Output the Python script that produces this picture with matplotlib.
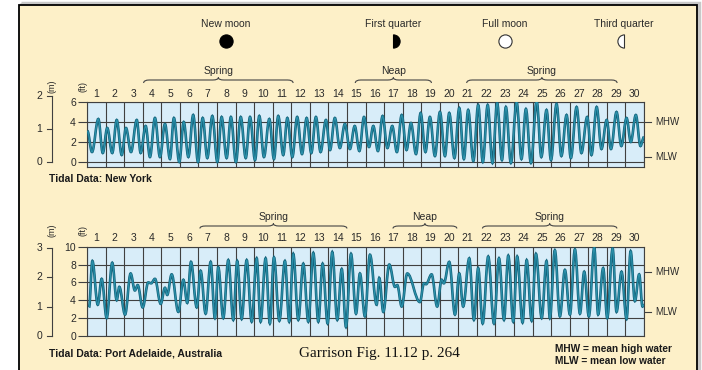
import numpy as np
import matplotlib
matplotlib.use('Agg')
import matplotlib.pyplot as plt
from matplotlib.path import Path
from matplotlib.patches import PathPatch, Rectangle
from matplotlib.transforms import blended_transform_factory
import matplotlib.patheffects as pe

plt.rcParams['font.family'] = ['Liberation Sans', 'DejaVu Sans']

days = list(range(1, 31))

# New York: tide extremes (day, height in ft)
ny_t = [0.02, 0.27, 0.61, 0.85, 1.09, 1.36, 1.60, 1.87, 2.10, 2.37, 2.68, 2.89,
        3.16, 3.39, 3.66, 3.93, 4.20, 4.47, 4.68, 4.97, 5.21, 5.46, 5.72, 5.98,
        6.23, 6.48, 6.75, 7.02, 7.25, 7.52, 7.75, 8.02, 8.28, 8.55, 8.78, 9.05,
        9.28, 9.53, 9.82, 10.07, 10.30, 10.57, 10.79, 11.06, 11.32, 11.58, 11.83, 12.08,
        12.33, 12.58, 12.87, 13.09, 13.35, 13.62, 13.89, 14.16, 14.42, 14.67, 14.92, 15.19,
        15.42, 15.67, 15.92, 16.18, 16.44, 16.69, 16.95, 17.21, 17.45, 17.72, 17.97, 18.23,
        18.47, 18.74, 19.01, 19.28, 19.51, 19.79, 20.05, 20.30, 20.53, 20.81, 21.07, 21.32,
        21.58, 21.84, 22.09, 22.35, 22.56, 22.83, 23.14, 23.40, 23.64, 23.91, 24.22, 24.47,
        24.75, 24.99, 25.29, 25.55, 25.83, 26.06, 26.37, 26.63, 26.94, 27.17, 27.45, 27.71,
        27.99, 28.22, 28.52, 28.78, 29.06, 29.29, 29.56, 29.81, 30.0]
ny_h = [3.1, 1.0, 4.3, 0.9, 3.4, 0.9, 4.2, 0.7, 3.4, 1.0, 4.2, 0.9,
        3.6, 0.5, 4.4, 0.5, 3.8, 0.3, 4.4, 0.0, 4.0, 0.5, 4.7, 0.0,
        4.4, 0.4, 4.6, 0.0, 4.5, 0.4, 4.5, 0.0, 4.5, 0.4, 4.5, 0.2,
        4.6, 0.5, 4.3, 0.3, 4.6, 0.7, 4.4, 0.5, 4.5, 0.8, 4.4, 0.9,
        4.5, 1.0, 4.2, 1.2, 4.4, 1.4, 3.8, 1.3, 3.6, 1.1, 4.5, 1.5,
        3.6, 1.1, 4.6, 1.4, 3.6, 1.0, 4.7, 1.2, 3.9, 0.8, 4.9, 1.0,
        4.5, 0.6, 5.0, 0.6, 4.9, 0.4, 5.4, 0.3, 5.2, 0.1, 5.7, 0.0,
        5.7, -0.1, 5.9, 0.2, 5.5, -0.1, 6.0, 0.3, 5.3, -0.1, 6.1, 0.5,
        5.2, 0.2, 5.8, 0.6, 4.7, 0.4, 5.5, 0.9, 4.5, 0.7, 5.5, 1.3,
        4.2, 1.3, 5.0, 1.6, 4.4, 2.0, 4.7, 1.6, 2.5]

# Port Adelaide: tide extremes (day, height in ft)
pa_t = [0.11, 0.29, 0.58, 0.79, 1.06, 1.36, 1.60, 1.74, 2.05, 2.35, 2.58, 2.73,
        3.00, 3.30, 3.45, 3.66, 3.97, 4.20, 4.32, 4.56, 4.92, 5.19, 5.40, 5.60,
        5.91, 6.12, 6.39, 6.66, 6.89, 7.07, 7.34, 7.61, 7.88, 8.09, 8.33, 8.60,
        8.87, 9.14, 9.35, 9.62, 9.85, 10.07, 10.36, 10.66, 10.89, 11.11, 11.38, 11.65,
        11.92, 12.19, 12.46, 12.69, 12.96, 13.21, 13.48, 13.72, 13.95, 14.22, 14.49, 14.70,
        14.97, 15.24, 15.60, 15.74, 15.96, 16.28, 16.59, 16.71, 16.95, 17.25, 17.93, 18.15,
        18.26, 18.56, 18.86, 19.10, 19.22, 19.51, 19.82, 20.05, 20.26, 20.59, 20.84, 21.07,
        21.31, 21.61, 21.92, 22.19, 22.46, 22.69, 22.96, 23.17, 23.46, 23.68, 23.95, 24.18,
        24.49, 24.75, 24.93, 25.20, 25.47, 25.74, 26.01, 26.28, 26.55, 26.78, 27.03, 27.32,
        27.53, 27.80, 28.02, 28.31, 28.52, 28.79, 29.06, 29.28, 29.51, 29.74, 29.92, 30.0]
pa_h = [3.2, 8.4, 3.5, 6.4, 2.0, 8.2, 4.0, 5.5, 2.4, 7.0, 5.1, 5.7,
        3.2, 6.0, 5.9, 6.4, 3.6, 5.4, 4.6, 6.9, 2.7, 6.3, 3.7, 8.3,
        3.2, 7.3, 2.5, 8.3, 2.0, 7.7, 2.0, 8.5, 1.8, 8.4, 1.9, 8.5,
        1.6, 8.7, 1.6, 8.7, 1.4, 8.8, 1.7, 8.4, 1.6, 9.2, 1.8, 8.1,
        1.6, 9.3, 1.6, 8.1, 1.4, 9.4, 1.8, 7.5, 1.0, 9.2, 2.5, 7.0,
        2.2, 9.1, 3.5, 6.5, 2.7, 8.0, 5.5, 5.7, 3.3, 7.0, 3.8, 5.9,
        5.8, 6.9, 3.3, 6.3, 5.9, 8.3, 2.4, 7.0, 3.3, 8.7, 1.8, 7.6,
        1.4, 8.9, 1.4, 8.7, 1.8, 9.0, 1.6, 8.9, 1.5, 8.5, 1.7, 9.2,
        2.0, 8.4, 2.0, 9.6, 2.2, 7.4, 2.4, 9.7, 2.5, 7.2, 2.2, 9.9,
        2.4, 7.6, 2.0, 9.8, 2.7, 7.2, 1.9, 9.5, 3.9, 6.9, 3.3, 3.5]

ny_ft_ticks = [0, 2, 4, 6]
pa_ft_ticks = [0, 2, 4, 6, 8, 10]
ny_m_ticks = [0, 1, 2]
pa_m_ticks = [0, 1, 2, 3]
ny_mhw, ny_mlw = 4.0, 0.5
pa_mhw, pa_mlw = 7.2, 2.7
ny_periods = [('Spring', 3.05, 11.1), ('Neap', 14.45, 18.55), ('Spring', 20.45, 28.55)]
pa_periods = [('Spring', 6.08, 14.0), ('Neap', 16.48, 19.92), ('Spring', 21.3, 28.54)]
moon_names = ['New moon', 'First quarter', 'Full moon', 'Third quarter']
moon_days = [7.49, 16.48, 22.51, 28.92]

CREAM = '#fdf0c8'
BLUE = '#d8edf9'
GRID = '#404040'
TXT = '#2a2a2a'
TEAL = '#2a90aa'
FT_PER_M = 3.2808

fig = plt.figure(figsize=(7.02, 3.70), dpi=100)
bg = fig.add_axes([0, 0, 1, 1])
bg.set_xlim(0, 702)
bg.set_ylim(370, 0)
bg.axis('off')
bg.set_zorder(0)
bg.add_patch(Rectangle((21, 3), 678, 380, fc='none', ec='#c8c8c8', lw=2.5))
bg.add_patch(Rectangle((19, 5), 678, 380, fc=CREAM, ec='black', lw=1.3))


def tide_path(t, h, k=0.36):
    verts = [(t[0], h[0])]
    codes = [Path.MOVETO]
    for i in range(1, len(t)):
        dt = t[i] - t[i - 1]
        verts += [(t[i - 1] + k * dt, h[i - 1]), (t[i] - k * dt, h[i]), (t[i], h[i])]
        codes += [Path.CURVE4] * 3
    return Path(verts, codes)


def brace(ax, x0, x1, y_end, y_line, y_peak, d=0.3):
    xc = (x0 + x1) / 2
    verts = [(x0, y_end), (x0, y_line), (x0 + d, y_line),
             (xc - d, y_line), (xc, y_line), (xc, y_peak),
             (xc, y_line), (xc + d, y_line),
             (x1 - d, y_line), (x1, y_line), (x1, y_end)]
    codes = [Path.MOVETO, Path.CURVE3, Path.CURVE3,
             Path.LINETO, Path.CURVE3, Path.CURVE3,
             Path.CURVE3, Path.CURVE3,
             Path.LINETO, Path.CURVE3, Path.CURVE3]
    tr = blended_transform_factory(ax.transData, bg.transData)
    bg.add_patch(PathPatch(Path(verts, codes), fc='none', ec='#444444', lw=0.8,
                           transform=tr, clip_on=False))
    return xc, tr


def panel(rect, t, h, ft_ticks, ylim, m_ticks, mhw, mlw, periods, brace_y,
          unit_y, title, title_y):
    ax = fig.add_axes(rect)
    ax.set_zorder(1)
    ax.set_facecolor(BLUE)
    ax.set_xlim(0, 30)
    ax.set_ylim(*ylim)
    ax.set_xticks(np.arange(30) + 0.5)
    ax.set_xticklabels([str(d) for d in days])
    ax.set_xticks(np.arange(31), minor=True)
    ax.xaxis.tick_top()
    ax.tick_params(axis='x', which='both', length=0, labelsize=7.5, pad=2.5,
                   labelcolor=TXT)
    ax.set_yticks(ft_ticks)
    ax.tick_params(axis='y', length=6.5, width=0.8, color=GRID, labelsize=7.5,
                   pad=1.5, labelcolor=TXT)
    ax.grid(axis='x', which='minor', color=GRID, lw=0.8)
    ax.grid(axis='y', which='major', color=GRID, lw=0.8)
    ax.set_axisbelow(True)
    for s in ax.spines.values():
        s.set_color(GRID)
        s.set_linewidth(0.8)

    curve = PathPatch(tide_path(t, h), fc='none', ec=TEAL, lw=0.9, zorder=3,
                      path_effects=[pe.Stroke(linewidth=1.9, foreground='#13627a'),
                                    pe.Normal()])
    ax.add_patch(curve)

    # metre scale on the left
    tr = blended_transform_factory(ax.transAxes, ax.transData)
    xv, xt, xl = -0.0628, -0.0718, -0.0808
    ax.plot([xv, xv], [0, m_ticks[-1] * FT_PER_M], color=GRID, lw=0.8,
            transform=tr, clip_on=False)
    for m in m_ticks:
        ax.plot([xt, xv], [m * FT_PER_M] * 2, color=GRID, lw=0.8,
                transform=tr, clip_on=False)
        ax.text(xl, m * FT_PER_M, str(m), transform=tr, ha='right', va='center',
                fontsize=7.5, color=TXT)

    # MHW / MLW marks on the right
    for val, lab in [(mhw, 'MHW'), (mlw, 'MLW')]:
        ax.plot([1.002, 1.013], [val, val], color=GRID, lw=0.8,
                transform=tr, clip_on=False)
        ax.text(1.02, val, lab, transform=tr, ha='left', va='center',
                fontsize=7, color=TXT)

    for name, x0, x1 in periods:
        xc, btr = brace(ax, x0, x1, *brace_y)
        bg.text(xc, brace_y[2] - 6.5, name, transform=btr, ha='center',
                va='center', fontsize=7.5, color=TXT)

    bg.text(52, unit_y, '(m)', rotation=90, ha='center', va='center',
            fontsize=6.5, color=TXT)
    bg.text(83, unit_y, '(ft)', rotation=90, ha='center', va='center',
            fontsize=6.5, color=TXT)
    bg.text(49, title_y, title, ha='left', va='center', fontsize=7.5,
            fontweight='bold', color='#1a1a1a')
    return ax


ax1 = panel([87 / 702, 1 - 167 / 370, 557 / 702, 65 / 370], ny_t, ny_h,
            ny_ft_ticks, (-0.5, 6), ny_m_ticks, ny_mhw, ny_mlw, ny_periods,
            (83, 80, 77.5), 86, 'Tidal Data: New York', 179)
ax2 = panel([87 / 702, 1 - 336 / 370, 557 / 702, 89.3 / 370], pa_t, pa_h,
            pa_ft_ticks, (0, 10), pa_m_ticks, pa_mhw, pa_mlw, pa_periods,
            (228.5, 226, 223.5), 230, 'Tidal Data: Port Adelaide, Australia', 354)

# moon phases
arc_r = Path.arc(-90, 90)
right_half = Path(np.vstack([arc_r.vertices, arc_r.vertices[:1]]),
                  list(arc_r.codes) + [Path.CLOSEPOLY])
arc_l = Path.arc(90, 270)
left_half = Path(np.vstack([arc_l.vertices, arc_l.vertices[:1]]),
                 list(arc_l.codes) + [Path.CLOSEPOLY])
mtr = blended_transform_factory(ax1.transData, bg.transData)
styles = [dict(marker='o', mfc='black', mec='black'),
          dict(marker=right_half, mfc='black', mec='black'),
          dict(marker='o', mfc='white', mec='#333333'),
          dict(marker=left_half, mfc='white', mec='#333333')]
for name, d, st in zip(moon_names, moon_days, styles):
    bg.plot([d], [41], ms=9.5, mew=0.8, transform=mtr, clip_on=False, **st)
    bg.text(d, 24, name, transform=mtr, ha='center', va='center',
            fontsize=7.5, color=TXT)

bg.text(379, 353, 'Garrison Fig. 11.12 p. 264', ha='center', va='center',
        fontsize=11, family='Liberation Serif', color='#111111')
bg.text(555, 349, 'MHW = mean high water', ha='left', va='center',
        fontsize=7.3, fontweight='bold', color='#1a1a1a')
bg.text(555, 361, 'MLW = mean low water', ha='left', va='center',
        fontsize=7.3, fontweight='bold', color='#1a1a1a')

fig.savefig('out.png', dpi=100, facecolor='white')
